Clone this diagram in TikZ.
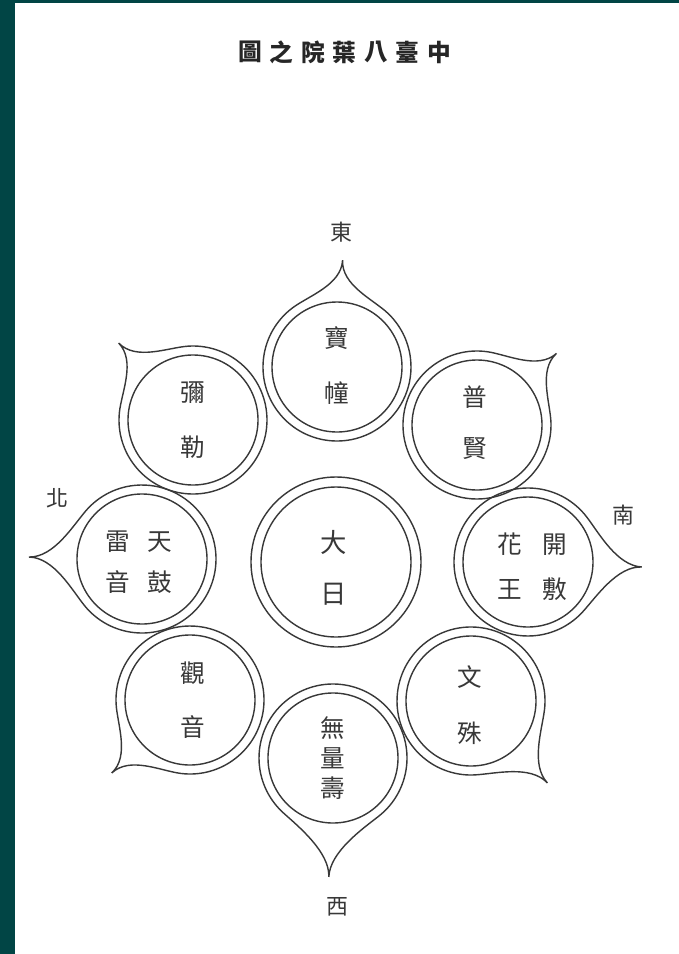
\documentclass[tikz,border=0pt]{standalone}
\usepackage{fontspec}
\newfontfamily\cjk{Noto Sans CJK TC}
\definecolor{ink}{gray}{0.22}
\definecolor{frame}{RGB}{1,69,69}

\begin{document}
\begin{tikzpicture}[
  x=0.02cm, y=0.02cm,
  petal line/.style={draw=ink, line width=0.8pt},
  every node/.style={text=ink, inner sep=0pt},
  vtext/.style={align=center, font=\cjk\fontsize{14}{#1}\selectfont},
  quarter/.style={font=\cjk\fontsize{12.5}{12.5}\selectfont},
  title/.style={font=\cjk\bfseries\fontsize{13.5}{13.5}\selectfont, text=black!85},
  pics/petal/.style={code={
    \draw[petal line] (#1,0) .. controls (#1-25,0) and (69.5,32.3) .. (40:74)
      arc[start angle=40, end angle=320, radius=74]
      .. controls (69.5,-32.3) and (#1-25,0) .. (#1,0);
    \draw[petal line] (0,0) circle[radius=65];
  }}
]
% page and dark frame
\useasboundingbox (0,0) rectangle (679,-954);
\fill[white] (0,0) rectangle (679,-954);
\fill[frame] (0,0) rectangle (15,-954);
\fill[frame] (0,0) rectangle (679,-3);

% title, printed right to left
\foreach \c [count=\i] in {圖,之,院,葉,八,臺,中}
  \node[title] (t\i) at (218.5+31.5*\i,-52) {\c};

% centre
\draw[petal line] (336,-562) circle[radius=85];
\draw[petal line] (336,-562) circle[radius=75];
\node[vtext=1.02cm, font=\cjk\fontsize{15}{1.02cm}\selectfont] (dainichi) at (334,-568) {大\\日};

% eight petals
\pic[rotate=87]   at (337,-367) {petal=107};
\pic[rotate=42]   at (477,-425) {petal=107};
\pic[rotate=-2.5] at (528,-562) {petal=114};
\pic[rotate=-47]  at (471,-701) {petal=112};
\pic[rotate=-92]  at (333,-758) {petal=119};
\pic[rotate=-137] at (190,-700) {petal=107};
\pic[rotate=179]  at (142,-559) {petal=113};
\pic[rotate=134]  at (193,-420) {petal=107};

\node[vtext=1.1cm]  (hodo)    at (337,-366) {寶\\幢};
\node[vtext=1.02cm] (fugen)   at (475,-423) {普\\賢};
\node[vtext=0.9cm]  (kaifuke) at (532,-567) {花\hspace{0.41cm}開\\王\hspace{0.41cm}敷};
\node[vtext=1.12cm] (monju)   at (470,-705) {文\\殊};
\node[vtext=0.6cm]  (muryoju) at (333,-758) {無\\量\\壽};
\node[vtext=1.08cm] (kannon)  at (193,-700) {觀\\音};
\node[vtext=0.82cm] (tenku)   at (139,-562) {雷\hspace{0.35cm}天\\音\hspace{0.35cm}鼓};
\node[vtext=1.1cm]  (miroku)  at (193,-420) {彌\\勒};

% quarters
\node[quarter] (east)  at (341,-232) {東};
\node[quarter] (south) at (623,-515) {南};
\node[quarter] (west)  at (337,-907) {西};
\node[quarter] (north) at (57,-498)  {北};

\end{tikzpicture}
\end{document}
